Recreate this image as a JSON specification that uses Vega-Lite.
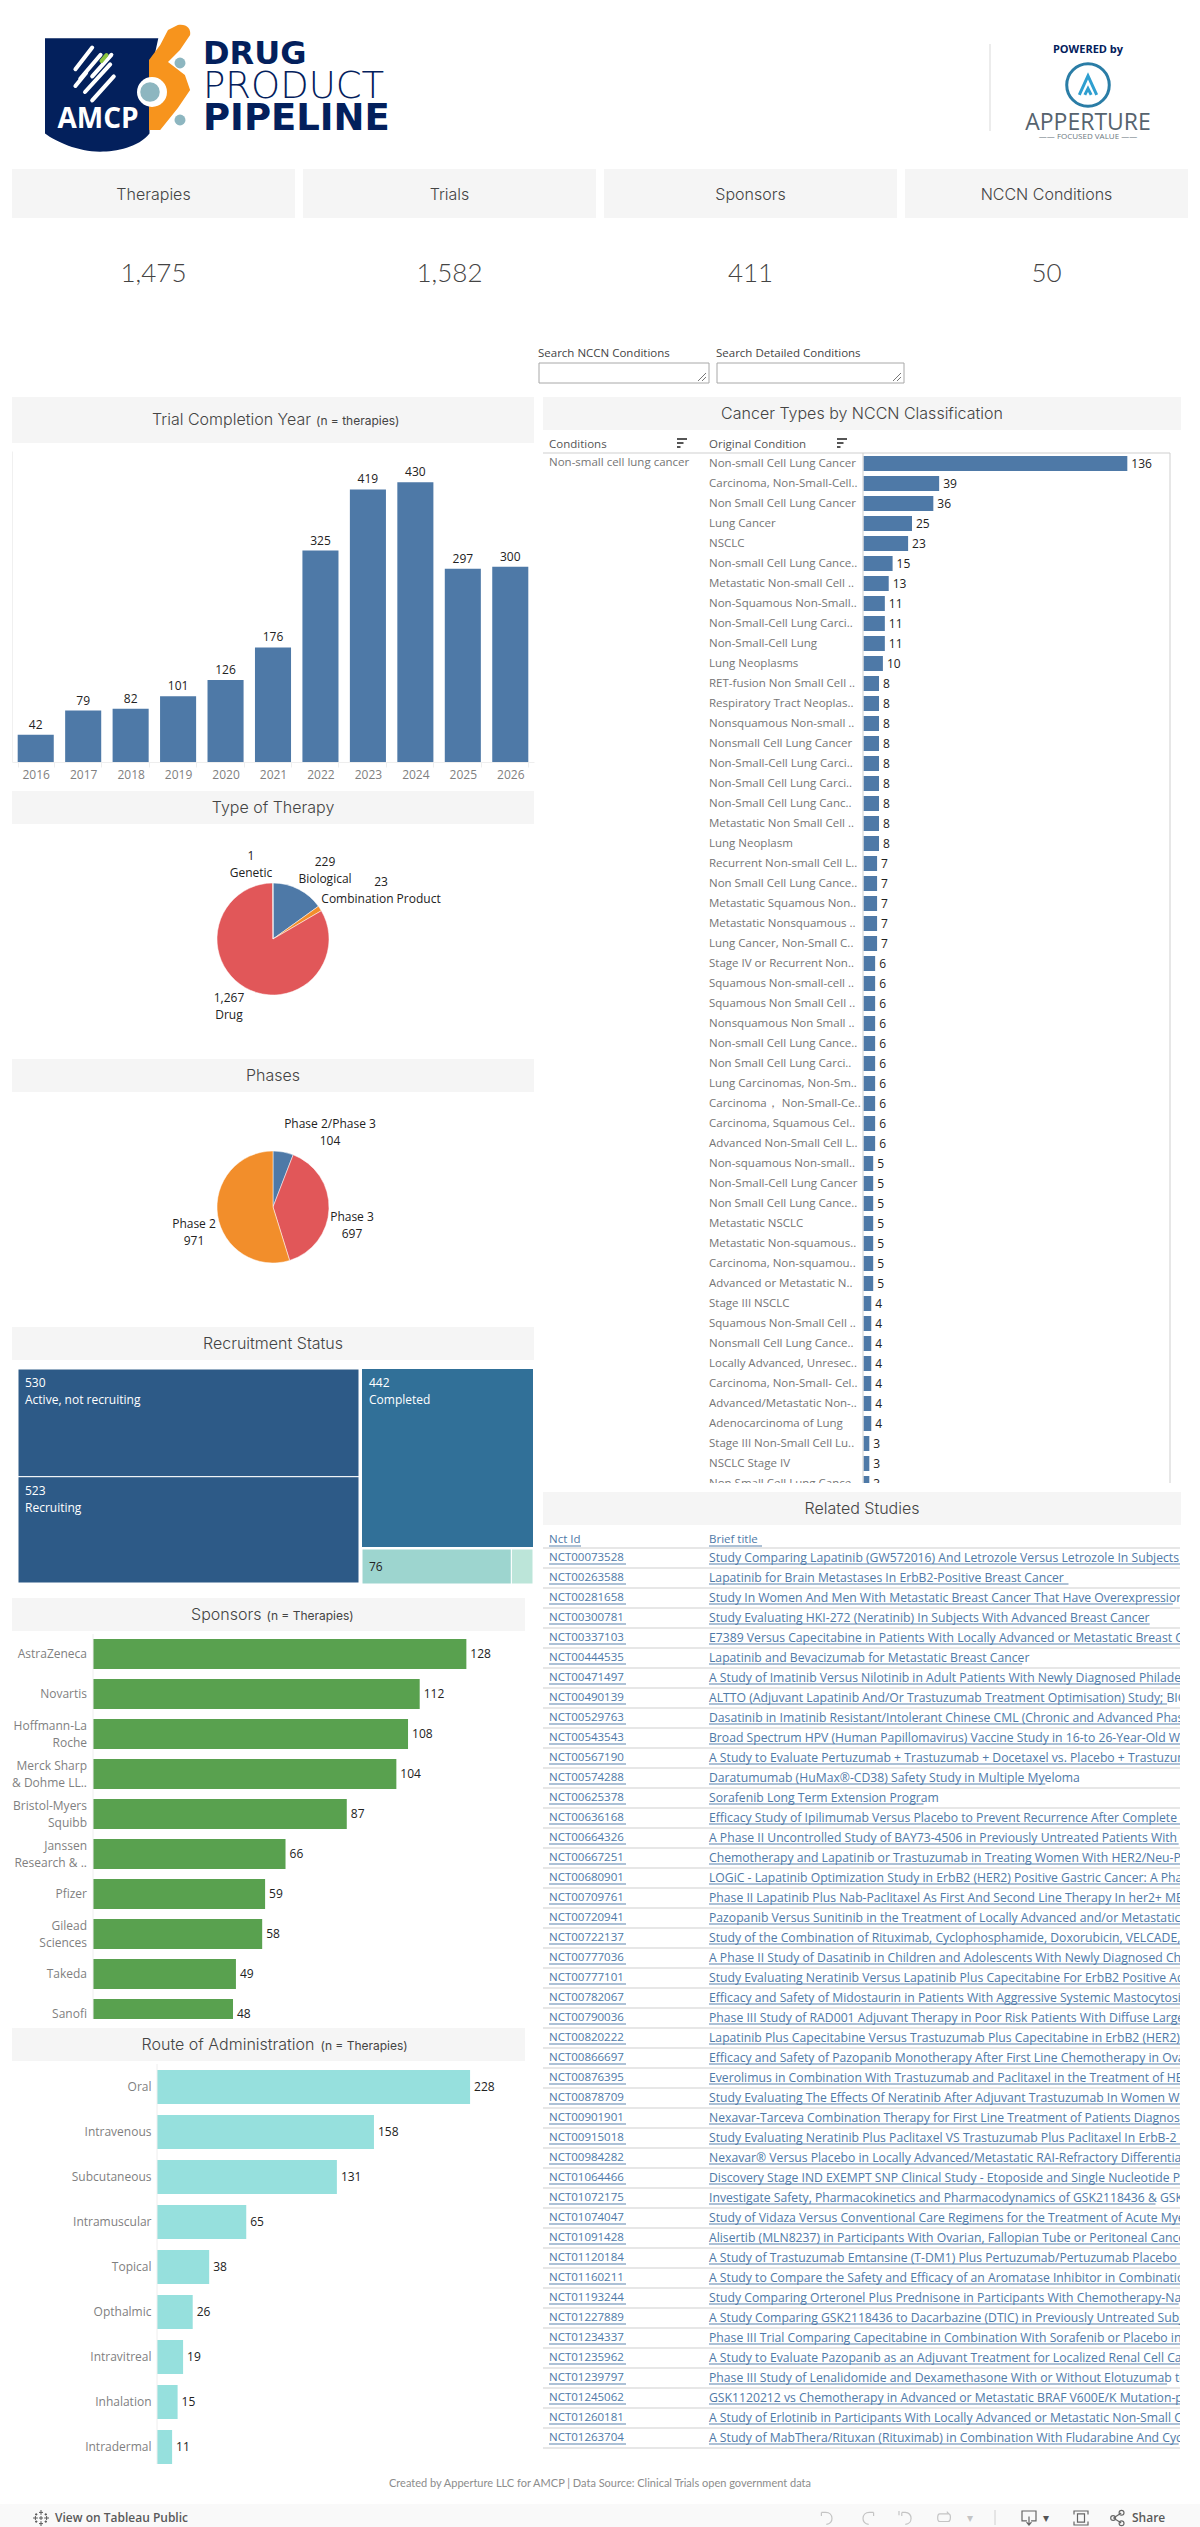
{
"$schema":"https://vega.github.io/schema/vega-lite/v6.json",
"padding":0,"background":"#ffffff","spacing":0,
"config":{"view":{"stroke":null},"font":"Open Sans","axis":{"title":null,"grid":false},"text":{"font":"Open Sans"}},
"datasets":{
"years":[{"year":"2016","n":42},{"year":"2017","n":79},{"year":"2018","n":82},{"year":"2019","n":101},{"year":"2020","n":126},{"year":"2021","n":176},{"year":"2022","n":325},{"year":"2023","n":419},{"year":"2024","n":430},{"year":"2025","n":297},{"year":"2026","n":300}],
"therapy":[{"kind":"Biological","n":229},{"kind":"Combination Product","n":23},{"kind":"Drug","n":1267},{"kind":"Genetic","n":1}],
"phases":[{"phase":"Phase 2/Phase 3","n":104,"seq":1},{"phase":"Phase 3","n":697,"seq":2},{"phase":"Phase 2","n":971,"seq":3}],
"sponsors":[{"sponsor":"AstraZeneca","n":128},{"sponsor":"Novartis","n":112},{"sponsor":"Hoffmann-La\nRoche","n":108},{"sponsor":"Merck Sharp\n& Dohme LL..","n":104},{"sponsor":"Bristol-Myers\nSquibb","n":87},{"sponsor":"Janssen\nResearch & ..","n":66},{"sponsor":"Pfizer","n":59},{"sponsor":"Gilead\nSciences","n":58},{"sponsor":"Takeda","n":49},{"sponsor":"Sanofi","n":48}],
"routes":[{"route":"Oral","n":228},{"route":"Intravenous","n":158},{"route":"Subcutaneous","n":131},{"route":"Intramuscular","n":65},{"route":"Topical","n":38},{"route":"Opthalmic","n":26},{"route":"Intravitreal","n":19},{"route":"Inhalation","n":15},{"route":"Intradermal","n":11}],
"cancer":[{"rank":1,"cond":"Non-small Cell Lung Cancer","n":136},{"rank":2,"cond":"Carcinoma, Non-Small-Cell..","n":39},{"rank":3,"cond":"Non Small Cell Lung Cancer","n":36},{"rank":4,"cond":"Lung Cancer","n":25},{"rank":5,"cond":"NSCLC","n":23},{"rank":6,"cond":"Non-small Cell Lung Cance..","n":15},{"rank":7,"cond":"Metastatic Non-small Cell ..","n":13},{"rank":8,"cond":"Non-Squamous Non-Small..","n":11},{"rank":9,"cond":"Non-Small-Cell Lung Carci..","n":11},{"rank":10,"cond":"Non-Small-Cell Lung","n":11},{"rank":11,"cond":"Lung Neoplasms","n":10},{"rank":12,"cond":"RET-fusion Non Small Cell ..","n":8},{"rank":13,"cond":"Respiratory Tract Neoplas..","n":8},{"rank":14,"cond":"Nonsquamous Non-small ..","n":8},{"rank":15,"cond":"Nonsmall Cell Lung Cancer","n":8},{"rank":16,"cond":"Non-Small-Cell Lung Carci..","n":8},{"rank":17,"cond":"Non-Small Cell Lung Carci..","n":8},{"rank":18,"cond":"Non-Small Cell Lung Canc..","n":8},{"rank":19,"cond":"Metastatic Non Small Cell ..","n":8},{"rank":20,"cond":"Lung Neoplasm","n":8},{"rank":21,"cond":"Recurrent Non-small Cell L..","n":7},{"rank":22,"cond":"Non Small Cell Lung Cance..","n":7},{"rank":23,"cond":"Metastatic Squamous Non..","n":7},{"rank":24,"cond":"Metastatic Nonsquamous ..","n":7},{"rank":25,"cond":"Lung Cancer, Non-Small C..","n":7},{"rank":26,"cond":"Stage IV or Recurrent Non..","n":6},{"rank":27,"cond":"Squamous Non-small-cell ..","n":6},{"rank":28,"cond":"Squamous Non Small Cell ..","n":6},{"rank":29,"cond":"Nonsquamous Non Small ..","n":6},{"rank":30,"cond":"Non-small Cell Lung Cance..","n":6},{"rank":31,"cond":"Non Small Cell Lung Carci..","n":6},{"rank":32,"cond":"Lung Carcinomas, Non-Sm..","n":6},{"rank":33,"cond":"Carcinoma， Non-Small-Ce..","n":6},{"rank":34,"cond":"Carcinoma, Squamous Cel..","n":6},{"rank":35,"cond":"Advanced Non-Small Cell L..","n":6},{"rank":36,"cond":"Non-squamous Non-small..","n":5},{"rank":37,"cond":"Non-Small-Cell Lung Cancer","n":5},{"rank":38,"cond":"Non Small Cell Lung Cance..","n":5},{"rank":39,"cond":"Metastatic NSCLC","n":5},{"rank":40,"cond":"Metastatic Non-squamous..","n":5},{"rank":41,"cond":"Carcinoma, Non-squamou..","n":5},{"rank":42,"cond":"Advanced or Metastatic N..","n":5},{"rank":43,"cond":"Stage III NSCLC","n":4},{"rank":44,"cond":"Squamous Non-Small Cell ..","n":4},{"rank":45,"cond":"Nonsmall Cell Lung Cance..","n":4},{"rank":46,"cond":"Locally Advanced, Unresec..","n":4},{"rank":47,"cond":"Carcinoma, Non-Small- Cel..","n":4},{"rank":48,"cond":"Advanced/Metastatic Non-..","n":4},{"rank":49,"cond":"Adenocarcinoma of Lung","n":4},{"rank":50,"cond":"Stage III Non-Small Cell Lu..","n":3},{"rank":51,"cond":"NSCLC Stage IV","n":3},{"rank":52,"cond":"Non Small Cell Lung Cance..","n":3}],
"studies":[{"nct":"NCT00073528","title":"Study Comparing Lapatinib (GW572016) And Letrozole Versus Letrozole In Subjects With"},{"nct":"NCT00263588","title":"Lapatinib for Brain Metastases In ErbB2-Positive Breast Cancer"},{"nct":"NCT00281658","title":"Study In Women And Men With Metastatic Breast Cancer That Have Overexpression Of"},{"nct":"NCT00300781","title":"Study Evaluating HKI-272 (Neratinib) In Subjects With Advanced Breast Cancer"},{"nct":"NCT00337103","title":"E7389 Versus Capecitabine in Patients With Locally Advanced or Metastatic Breast Cancer"},{"nct":"NCT00444535","title":"Lapatinib and Bevacizumab for Metastatic Breast Cancer"},{"nct":"NCT00471497","title":"A Study of Imatinib Versus Nilotinib in Adult Patients With Newly Diagnosed Philadelphia"},{"nct":"NCT00490139","title":"ALTTO (Adjuvant Lapatinib And/Or Trastuzumab Treatment Optimisation) Study; BIG"},{"nct":"NCT00529763","title":"Dasatinib in Imatinib Resistant/Intolerant Chinese CML (Chronic and Advanced Phase"},{"nct":"NCT00543543","title":"Broad Spectrum HPV (Human Papillomavirus) Vaccine Study in 16-to 26-Year-Old Women"},{"nct":"NCT00567190","title":"A Study to Evaluate Pertuzumab + Trastuzumab + Docetaxel vs. Placebo + Trastuzumab"},{"nct":"NCT00574288","title":"Daratumumab (HuMax®-CD38) Safety Study in Multiple Myeloma"},{"nct":"NCT00625378","title":"Sorafenib Long Term Extension Program"},{"nct":"NCT00636168","title":"Efficacy Study of Ipilimumab Versus Placebo to Prevent Recurrence After Complete Resection"},{"nct":"NCT00664326","title":"A Phase II Uncontrolled Study of BAY73-4506 in Previously Untreated Patients With"},{"nct":"NCT00667251","title":"Chemotherapy and Lapatinib or Trastuzumab in Treating Women With HER2/Neu-Positive"},{"nct":"NCT00680901","title":"LOGiC - Lapatinib Optimization Study in ErbB2 (HER2) Positive Gastric Cancer: A Phase"},{"nct":"NCT00709761","title":"Phase II Lapatinib Plus Nab-Paclitaxel As First And Second Line Therapy In her2+ MBC"},{"nct":"NCT00720941","title":"Pazopanib Versus Sunitinib in the Treatment of Locally Advanced and/or Metastatic Renal"},{"nct":"NCT00722137","title":"Study of the Combination of Rituximab, Cyclophosphamide, Doxorubicin, VELCADE, and"},{"nct":"NCT00777036","title":"A Phase II Study of Dasatinib in Children and Adolescents With Newly Diagnosed Chronic"},{"nct":"NCT00777101","title":"Study Evaluating Neratinib Versus Lapatinib Plus Capecitabine For ErbB2 Positive Advanced"},{"nct":"NCT00782067","title":"Efficacy and Safety of Midostaurin in Patients With Aggressive Systemic Mastocytosis"},{"nct":"NCT00790036","title":"Phase III Study of RAD001 Adjuvant Therapy in Poor Risk Patients With Diffuse Large"},{"nct":"NCT00820222","title":"Lapatinib Plus Capecitabine Versus Trastuzumab Plus Capecitabine in ErbB2 (HER2) Positive"},{"nct":"NCT00866697","title":"Efficacy and Safety of Pazopanib Monotherapy After First Line Chemotherapy in Ovarian"},{"nct":"NCT00876395","title":"Everolimus in Combination With Trastuzumab and Paclitaxel in the Treatment of HER2"},{"nct":"NCT00878709","title":"Study Evaluating The Effects Of Neratinib After Adjuvant Trastuzumab In Women With"},{"nct":"NCT00901901","title":"Nexavar-Tarceva Combination Therapy for First Line Treatment of Patients Diagnosed"},{"nct":"NCT00915018","title":"Study Evaluating Neratinib Plus Paclitaxel VS Trastuzumab Plus Paclitaxel In ErbB-2"},{"nct":"NCT00984282","title":"Nexavar® Versus Placebo in Locally Advanced/Metastatic RAI-Refractory Differentiated"},{"nct":"NCT01064466","title":"Discovery Stage IND EXEMPT SNP Clinical Study - Etoposide and Single Nucleotide Poly"},{"nct":"NCT01072175","title":"Investigate Safety, Pharmacokinetics and Pharmacodynamics of GSK2118436 & GSK"},{"nct":"NCT01074047","title":"Study of Vidaza Versus Conventional Care Regimens for the Treatment of Acute Myeloid"},{"nct":"NCT01091428","title":"Alisertib (MLN8237) in Participants With Ovarian, Fallopian Tube or Peritoneal Cancer"},{"nct":"NCT01120184","title":"A Study of Trastuzumab Emtansine (T-DM1) Plus Pertuzumab/Pertuzumab Placebo Versus"},{"nct":"NCT01160211","title":"A Study to Compare the Safety and Efficacy of an Aromatase Inhibitor in Combination"},{"nct":"NCT01193244","title":"Study Comparing Orteronel Plus Prednisone in Participants With Chemotherapy-Naive"},{"nct":"NCT01227889","title":"A Study Comparing GSK2118436 to Dacarbazine (DTIC) in Previously Untreated Subjects"},{"nct":"NCT01234337","title":"Phase III Trial Comparing Capecitabine in Combination With Sorafenib or Placebo in the"},{"nct":"NCT01235962","title":"A Study to Evaluate Pazopanib as an Adjuvant Treatment for Localized Renal Cell Carcinoma"},{"nct":"NCT01239797","title":"Phase III Study of Lenalidomide and Dexamethasone With or Without Elotuzumab to"},{"nct":"NCT01245062","title":"GSK1120212 vs Chemotherapy in Advanced or Metastatic BRAF V600E/K Mutation-positive"},{"nct":"NCT01260181","title":"A Study of Erlotinib in Participants With Locally Advanced or Metastatic Non-Small Cell"},{"nct":"NCT01263704","title":"A Study of MabThera/Rituxan (Rituximab) in Combination With Fludarabine And Cyclo"}]
},
"vconcat":[
{"width":1200,"height":169,"layer":[
{"data":{"values":[{}]},"mark":{"type":"point","x":100,"y":95,"size":12100,"filled":true,"opacity":1,"color":"#03205c","shape":"M-1,-1.03 L1.06,-1.03 L.9,-.3 L.9,.7 C.7,.95 .3,1.03 0,1.03 C-.4,1.03 -.8,.85 -1,.7 Z"},"encoding":{}},
{"data":{"values":[{}]},"mark":{"type":"point","x":168,"y":78,"size":2704,"filled":true,"opacity":1,"color":"#f7941d","shape":"M.38,-2.04 C.7,-2.1 .9,-1.9 .85,-1.65 L.46,-1.08 L0,-.62 L.65,-.12 L.85,.46 L.38,1.15 L-.3,2 L-.73,2 L-.73,-.69 L-.3,-1.27 L0,-1.85 Z"},"encoding":{}},
{"data":{"values":[{}]},"mark":{"type":"point","x":152,"y":92,"size":900,"shape":"circle","filled":true,"opacity":1,"color":"#ffffff"},"encoding":{}},
{"data":{"values":[{}]},"mark":{"type":"point","x":150,"y":92,"size":380,"shape":"circle","filled":true,"opacity":1,"color":"#8db6c0"},"encoding":{}},
{"data":{"values":[{}]},"mark":{"type":"point","x":180,"y":63,"size":120,"shape":"circle","filled":true,"opacity":1,"color":"#8db6c0"},"encoding":{}},
{"data":{"values":[{}]},"mark":{"type":"point","x":180,"y":120,"size":120,"shape":"circle","filled":true,"opacity":1,"color":"#8db6c0"},"encoding":{}},
{"data":{"values":[{}]},"mark":{"type":"point","x":97,"y":74,"size":2304,"filled":false,"opacity":1,"stroke":"#ffffff","strokeWidth":4,"strokeCap":"round","shape":"M-.9,-.2 L-.2,-1.1 M-.7,.2 L.15,-.8 M-.2,.1 L.6,-.8 M-.9,.5 L-.45,-.05 M-.5,.75 L.55,-.4 M-.2,1.1 L.7,.1"},"encoding":{}},
{"data":{"values":[{}]},"mark":{"type":"point","x":104,"y":58,"size":100,"filled":false,"opacity":1,"stroke":"#8cc63f","strokeWidth":4,"strokeCap":"round","shape":"M-.5,.6 L.5,-.6"},"encoding":{}},
{"data":{"values":[{"t":"AMCP"}]},"mark":{"type":"text","x":98,"y":120,"font":"Open Sans","fontWeight":"bold","fontSize":28,"color":"#ffffff","baseline":"middle"},"encoding":{"text":{"field":"t","type":"nominal"}}},
{"data":{"values":[{"t":"DRUG"}]},"mark":{"type":"text","x":203,"y":54,"align":"left","baseline":"middle","font":"DejaVu Sans","fontWeight":"bold","fontSize":32,"color":"#03205c"},"encoding":{"text":{"field":"t","type":"nominal"}}},
{"data":{"values":[{"t":"PRODUCT"}]},"mark":{"type":"text","x":203,"y":87,"align":"left","baseline":"middle","font":"DejaVu Sans","fontWeight":200,"fontSize":37,"color":"#03205c"},"encoding":{"text":{"field":"t","type":"nominal"}}},
{"data":{"values":[{"t":"PIPELINE"}]},"mark":{"type":"text","x":203,"y":119,"align":"left","baseline":"middle","font":"DejaVu Sans","fontWeight":"bold","fontSize":37,"color":"#03205c"},"encoding":{"text":{"field":"t","type":"nominal"}}},
{"data":{"values":[{}]},"mark":{"type":"rule","color":"#d9d9d9"},"encoding":{"x":{"value":990},"y":{"value":44},"y2":{"value":131}}},
{"data":{"values":[{"t":"POWERED by"}]},"mark":{"type":"text","x":1088,"y":50,"font":"Open Sans","fontWeight":"bold","fontSize":11,"color":"#03205c","baseline":"middle"},"encoding":{"text":{"field":"t","type":"nominal"}}},
{"data":{"values":[{}]},"mark":{"type":"point","x":1088,"y":85,"size":1810,"shape":"circle","filled":false,"opacity":1,"stroke":"#2a7da6","strokeWidth":3},"encoding":{}},
{"data":{"values":[{}]},"mark":{"type":"point","x":1088,"y":87,"size":1000,"filled":false,"opacity":1,"stroke":"#2f9fd0","strokeWidth":3,"shape":"M-.55,.5 L0,-.7 L.55,.5 M-.2,.5 L0,.1 L.2,.5"},"encoding":{}},
{"data":{"values":[{"t":"APPERTURE"}]},"mark":{"type":"text","x":1088,"y":123,"font":"Open Sans","fontSize":23,"color":"#56636e","baseline":"middle"},"encoding":{"text":{"field":"t","type":"nominal"}}},
{"data":{"values":[{"t":"—— FOCUSED VALUE ——"}]},"mark":{"type":"text","x":1088,"y":137,"font":"Open Sans","fontSize":8,"color":"#6b7780","baseline":"middle"},"encoding":{"text":{"field":"t","type":"nominal"}}}
]},
{"spacing":8,"hconcat":[
{"width":4,"height":49,"data":{"values":[{}]},"mark":{"type":"rect","opacity":0},"encoding":{}},
{"width":283,"height":49,"view":{"fill":"#f5f5f5"},"data":{"values":[{"t":"Therapies"}]},"mark":{"type":"text","font":"Inter","fontWeight":300,"fontSize":16,"color":"#444444","dy":1},"encoding":{"text":{"field":"t","type":"nominal"}}},
{"width":293,"height":49,"view":{"fill":"#f5f5f5"},"data":{"values":[{"t":"Trials"}]},"mark":{"type":"text","font":"Inter","fontWeight":300,"fontSize":16,"color":"#444444","dy":1},"encoding":{"text":{"field":"t","type":"nominal"}}},
{"width":293,"height":49,"view":{"fill":"#f5f5f5"},"data":{"values":[{"t":"Sponsors"}]},"mark":{"type":"text","font":"Inter","fontWeight":300,"fontSize":16,"color":"#444444","dy":1},"encoding":{"text":{"field":"t","type":"nominal"}}},
{"width":283,"height":49,"view":{"fill":"#f5f5f5"},"data":{"values":[{"t":"NCCN Conditions"}]},"mark":{"type":"text","font":"Inter","fontWeight":300,"fontSize":16,"color":"#444444","dy":1},"encoding":{"text":{"field":"t","type":"nominal"}}}
]},
{"spacing":8,"hconcat":[
{"width":4,"height":112,"data":{"values":[{}]},"mark":{"type":"rect","opacity":0},"encoding":{}},
{"width":283,"height":112,"data":{"values":[{"v":"1,475"}]},"mark":{"type":"text","font":"Lato","fontWeight":300,"fontSize":26,"color":"#444444"},"encoding":{"text":{"field":"v","type":"nominal"}}},
{"width":293,"height":112,"data":{"values":[{"v":"1,582"}]},"mark":{"type":"text","font":"Lato","fontWeight":300,"fontSize":26,"color":"#444444"},"encoding":{"text":{"field":"v","type":"nominal"}}},
{"width":293,"height":112,"data":{"values":[{"v":"411"}]},"mark":{"type":"text","font":"Lato","fontWeight":300,"fontSize":26,"color":"#444444"},"encoding":{"text":{"field":"v","type":"nominal"}}},
{"width":283,"height":112,"data":{"values":[{"v":"50"}]},"mark":{"type":"text","font":"Lato","fontWeight":300,"fontSize":26,"color":"#444444"},"encoding":{"text":{"field":"v","type":"nominal"}}}
]},
{"width":1200,"height":67,"layer":[
{"data":{"values":[{"t":"Search NCCN Conditions"}]},"mark":{"type":"text","x":538,"y":24,"align":"left","baseline":"middle","fontSize":11.5,"color":"#444444"},"encoding":{"text":{"field":"t","type":"nominal"}}},
{"data":{"values":[{"t":"Search Detailed Conditions"}]},"mark":{"type":"text","x":716,"y":24,"align":"left","baseline":"middle","fontSize":11.5,"color":"#444444"},"encoding":{"text":{"field":"t","type":"nominal"}}},
{"data":{"values":[{}]},"mark":{"type":"rect","fill":"#ffffff","stroke":"#a8a8a8","strokeWidth":1},"encoding":{"x":{"value":539},"x2":{"value":709},"y":{"value":33},"y2":{"value":53}}},
{"data":{"values":[{}]},"mark":{"type":"rect","fill":"#ffffff","stroke":"#a8a8a8","strokeWidth":1},"encoding":{"x":{"value":717},"x2":{"value":904},"y":{"value":33},"y2":{"value":53}}},
{"data":{"values":[{}]},"mark":{"type":"point","x":702,"y":47,"size":64,"filled":false,"opacity":1,"stroke":"#777777","strokeWidth":1,"shape":"M-1,1 L1,-1 M0,1 L1,0"},"encoding":{}},
{"data":{"values":[{}]},"mark":{"type":"point","x":897,"y":47,"size":64,"filled":false,"opacity":1,"stroke":"#777777","strokeWidth":1,"shape":"M-1,1 L1,-1 M0,1 L1,0"},"encoding":{}}
]},
{"spacing":8,"hconcat":[
{"width":4,"height":10,"data":{"values":[{}]},"mark":{"type":"rect","opacity":0},"encoding":{}},
{"spacing":0,"resolve":{"scale":{"color":"independent"}},"vconcat":[
{"width":522,"height":46,"view":{"fill":"#f5f5f5"},"data":{"values":[{"t":"Trial Completion Year","s":"(n = therapies)"}]},"layer":[
{"mark":{"type":"text","font":"Inter","fontWeight":300,"fontSize":16,"color":"#444444","align":"right","dx":38},"encoding":{"text":{"field":"t","type":"nominal"}}},
{"mark":{"type":"text","font":"Inter","fontSize":12,"color":"#444444","align":"left","dx":43,"dy":1},"encoding":{"text":{"field":"s","type":"nominal"}}}
]},
{"width":522,"height":348,"data":{"name":"years"},"encoding":{
"x":{"field":"year","type":"ordinal","scale":{"range":[0,522],"paddingInner":0.24,"paddingOuter":0.12},"axis":{"offset":-29,"labelAngle":0,"labelColor":"#7f7f7f","labelFontSize":12,"labelFont":"Open Sans","labelPadding":2,"tickColor":"#eeeeee","domainColor":"#eeeeee","tickBand":"extent","tickSize":5}},
"y":{"field":"n","type":"quantitative","scale":{"domain":[0,478],"range":[319,8],"nice":false},"axis":{"labels":false,"ticks":false,"domainColor":"#f0f0f0"}}},
"layer":[
{"mark":{"type":"bar","color":"#4e79a7"}},
{"mark":{"type":"text","baseline":"bottom","dy":-3,"fontSize":12,"color":"#222222"},"encoding":{"text":{"field":"n","type":"quantitative"}}}
]},
{"width":522,"height":33,"view":{"fill":"#f5f5f5"},"data":{"values":[{"t":"Type of Therapy"}]},"mark":{"type":"text","font":"Inter","fontWeight":300,"fontSize":16,"color":"#444444"},"encoding":{"text":{"field":"t","type":"nominal"}}},
{"width":522,"height":230,"data":{"name":"therapy"},"transform":[{"calculate":"format(datum.n,',')+'\\n'+datum.kind","as":"label"}],"layer":[
{"mark":{"type":"arc","radius":56,"stroke":"#ffffff","strokeWidth":0.5},"encoding":{"theta":{"field":"n","type":"quantitative"},"color":{"field":"kind","type":"nominal","legend":null,"scale":{"domain":["Biological","Combination Product","Drug","Genetic"],"range":["#4e79a7","#f28e2b","#e15759","#76b7b2"]}}}},
{"transform":[{"filter":"datum.kind=='Genetic'"}],"mark":{"type":"text","lineBreak":"\n","lineHeight":17,"fontSize":12,"color":"#222222","dx":-22,"dy":-83},"encoding":{"text":{"field":"label","type":"nominal"}}},
{"transform":[{"filter":"datum.kind=='Biological'"}],"mark":{"type":"text","lineBreak":"\n","lineHeight":17,"fontSize":12,"color":"#222222","dx":52,"dy":-77},"encoding":{"text":{"field":"label","type":"nominal"}}},
{"transform":[{"filter":"datum.kind=='Combination Product'"}],"mark":{"type":"text","lineBreak":"\n","lineHeight":17,"fontSize":12,"color":"#222222","dx":108,"dy":-57},"encoding":{"text":{"field":"label","type":"nominal"}}},
{"transform":[{"filter":"datum.kind=='Drug'"}],"mark":{"type":"text","lineBreak":"\n","lineHeight":17,"fontSize":12,"color":"#222222","dx":-44,"dy":59},"encoding":{"text":{"field":"label","type":"nominal"}}}
]},
{"width":522,"height":5,"data":{"values":[{}]},"mark":{"type":"rect","opacity":0},"encoding":{}},
{"width":522,"height":33,"view":{"fill":"#f5f5f5"},"data":{"values":[{"t":"Phases"}]},"mark":{"type":"text","font":"Inter","fontWeight":300,"fontSize":16,"color":"#444444"},"encoding":{"text":{"field":"t","type":"nominal"}}},
{"width":522,"height":230,"data":{"name":"phases"},"transform":[{"calculate":"datum.phase+'\\n'+format(datum.n,',')","as":"label"}],"layer":[
{"mark":{"type":"arc","radius":56,"stroke":"#ffffff","strokeWidth":0.5},"encoding":{"theta":{"field":"n","type":"quantitative"},"order":{"field":"seq","type":"quantitative"},"color":{"field":"phase","type":"nominal","legend":null,"scale":{"domain":["Phase 2/Phase 3","Phase 3","Phase 2"],"range":["#4e79a7","#e15759","#f28e2b"]}}}},
{"transform":[{"filter":"datum.phase=='Phase 2/Phase 3'"}],"mark":{"type":"text","lineBreak":"\n","lineHeight":17,"fontSize":12,"color":"#222222","dx":57,"dy":-83},"encoding":{"text":{"field":"label","type":"nominal"}}},
{"transform":[{"filter":"datum.phase=='Phase 3'"}],"mark":{"type":"text","lineBreak":"\n","lineHeight":17,"fontSize":12,"color":"#222222","dx":79,"dy":10},"encoding":{"text":{"field":"label","type":"nominal"}}},
{"transform":[{"filter":"datum.phase=='Phase 2'"}],"mark":{"type":"text","lineBreak":"\n","lineHeight":17,"fontSize":12,"color":"#222222","dx":-79,"dy":17},"encoding":{"text":{"field":"label","type":"nominal"}}}
]},
{"width":522,"height":5,"data":{"values":[{}]},"mark":{"type":"rect","opacity":0},"encoding":{}},
{"width":522,"height":33,"view":{"fill":"#f5f5f5"},"data":{"values":[{"t":"Recruitment Status"}]},"mark":{"type":"text","font":"Inter","fontWeight":300,"fontSize":16,"color":"#444444"},"encoding":{"text":{"field":"t","type":"nominal"}}},
{"width":522,"height":8,"data":{"values":[{}]},"mark":{"type":"rect","opacity":0},"encoding":{}},
{"spacing":1,"hconcat":[
{"width":4,"height":214,"data":{"values":[{}]},"mark":{"type":"rect","opacity":0},"encoding":{}},
{"width":341,"height":214,"data":{"values":[{"status":"Active, not recruiting","n":530,"seq":1},{"status":"Recruiting","n":523,"seq":2}]},"transform":[{"stack":"n","groupby":[],"sort":[{"field":"seq","order":"ascending"}],"as":["y0","y1"]},{"calculate":"datum.n+'\\n'+datum.status","as":"label"}],"encoding":{"y":{"field":"y0","type":"quantitative","axis":null,"scale":{"domain":[0,1053],"range":[0,214],"nice":false}}},"layer":[
{"mark":{"type":"rect","color":"#2d5a87","stroke":"#ffffff","strokeWidth":1},"encoding":{"y2":{"field":"y1"}}},
{"mark":{"type":"text","x":7,"align":"left","baseline":"top","dy":9,"lineBreak":"\n","lineHeight":17,"fontSize":12,"color":"#ffffff"},"encoding":{"text":{"field":"label","type":"nominal"}}}
]},
{"spacing":1,"vconcat":[
{"width":171,"height":178,"view":{"fill":"#317098"},"data":{"values":[{"status":"Completed","n":442}]},"transform":[{"calculate":"datum.n+'\\n'+datum.status","as":"label"}],"mark":{"type":"text","x":7,"y":9,"align":"left","baseline":"top","lineBreak":"\n","lineHeight":17,"fontSize":12,"color":"#ffffff"},"encoding":{"text":{"field":"label","type":"nominal"}}},
{"width":171,"height":35,"data":{"values":[{"status":"Terminated","n":76,"seq":1,"shown":"76"},{"status":"Other","n":11,"seq":2,"shown":""}]},"transform":[{"stack":"n","groupby":[],"sort":[{"field":"seq","order":"ascending"}],"as":["x0","x1"]}],"encoding":{"x":{"field":"x0","type":"quantitative","axis":null,"scale":{"domain":[0,87],"range":[0,171],"nice":false}}},"layer":[
{"mark":{"type":"rect","stroke":"#ffffff","strokeWidth":1},"encoding":{"x2":{"field":"x1"},"color":{"field":"status","type":"nominal","legend":null,"scale":{"domain":["Terminated","Other"],"range":["#9dd5cf","#bce5d9"]}}}},
{"mark":{"type":"text","align":"left","dx":7,"fontSize":12,"color":"#222222"},"encoding":{"text":{"field":"shown","type":"nominal"}}}
]}
]}
]},
{"width":522,"height":13,"data":{"values":[{}]},"mark":{"type":"rect","opacity":0},"encoding":{}},
{"width":513,"height":33,"view":{"fill":"#f5f5f5"},"data":{"values":[{"t":"Sponsors","s":"(n = Therapies)"}]},"layer":[
{"mark":{"type":"text","font":"Inter","fontWeight":300,"fontSize":16,"color":"#444444","align":"right","dx":-7},"encoding":{"text":{"field":"t","type":"nominal"}}},
{"mark":{"type":"text","font":"Inter","fontSize":12,"color":"#444444","align":"left","dx":-2,"dy":1},"encoding":{"text":{"field":"s","type":"nominal"}}}
]},
{"width":513,"height":388,"data":{"name":"sponsors"},"encoding":{
"y":{"field":"sponsor","type":"nominal","sort":null,"axis":null,"scale":{"range":[3,403],"paddingInner":0.25,"paddingOuter":0.125}},
"x":{"field":"n","type":"quantitative","scale":{"domain":[0,148.1],"range":[81,513],"nice":false},"axis":null}},
"layer":[
{"mark":{"type":"bar","color":"#59a14f","clip":true}},
{"mark":{"type":"text","align":"left","dx":4,"fontSize":12,"color":"#222222","clip":true},"encoding":{"text":{"field":"n","type":"quantitative"}}},
{"transform":[{"filter":"indexof(datum.sponsor,'\\n')>=0"}],"mark":{"type":"text","align":"right","dy":-8.5,"lineBreak":"\n","lineHeight":17,"fontSize":12,"color":"#7f7f7f","clip":true},"encoding":{"x":{"value":75},"text":{"field":"sponsor","type":"nominal"}}},
{"transform":[{"filter":"indexof(datum.sponsor,'\\n')<0"}],"mark":{"type":"text","align":"right","fontSize":12,"color":"#7f7f7f","clip":true},"encoding":{"x":{"value":75},"text":{"field":"sponsor","type":"nominal"}}},
{"data":{"values":[{}]},"mark":{"type":"rule","color":"#eeeeee"},"encoding":{"x":{"value":81},"y":{"value":3},"y2":{"value":388}}}
]},
{"width":513,"height":8,"data":{"values":[{}]},"mark":{"type":"rect","opacity":0},"encoding":{}},
{"width":513,"height":33,"view":{"fill":"#f5f5f5"},"data":{"values":[{"t":"Route of Administration","s":"(n = Therapies)"}]},"layer":[
{"mark":{"type":"text","font":"Inter","fontWeight":300,"fontSize":16,"color":"#444444","align":"right","dx":46},"encoding":{"text":{"field":"t","type":"nominal"}}},
{"mark":{"type":"text","font":"Inter","fontSize":12,"color":"#444444","align":"left","dx":52,"dy":1},"encoding":{"text":{"field":"s","type":"nominal"}}}
]},
{"width":513,"height":413,"data":{"name":"routes"},"encoding":{
"y":{"field":"route","type":"nominal","sort":null,"scale":{"range":[3.5,408.5],"paddingInner":0.244,"paddingOuter":0.122},"axis":{"offset":-145,"domain":false,"ticks":false,"labelPadding":6,"labelFontSize":12,"labelFont":"Open Sans","labelColor":"#7f7f7f"}},
"x":{"field":"n","type":"quantitative","scale":{"domain":[0,268],"range":[145,513],"nice":false},"axis":null}},
"layer":[
{"mark":{"type":"bar","color":"#96e0dd"}},
{"mark":{"type":"text","align":"left","dx":4,"fontSize":12,"color":"#222222"},"encoding":{"text":{"field":"n","type":"quantitative"}}},
{"data":{"values":[{}]},"mark":{"type":"rule","color":"#eeeeee"},"encoding":{"x":{"value":145},"y":{"value":3},"y2":{"value":403}}}
]}
]},
{"spacing":0,"vconcat":[
{"width":638,"height":33,"view":{"fill":"#f5f5f5"},"data":{"values":[{"t":"Cancer Types by NCCN Classification"}]},"mark":{"type":"text","font":"Inter","fontWeight":300,"fontSize":16,"color":"#444444"},"encoding":{"text":{"field":"t","type":"nominal"}}},
{"width":638,"height":1053,"data":{"name":"cancer"},"encoding":{
"y":{"field":"rank","type":"ordinal","sort":null,"axis":null,"scale":{"range":[23.5,1063.5],"paddingInner":0.25,"paddingOuter":0.125}},
"x":{"field":"n","type":"quantitative","axis":null,"scale":{"domain":[0,158],"range":[320.5,627],"nice":false}}},
"layer":[
{"mark":{"type":"bar","color":"#4e79a7","clip":true}},
{"mark":{"type":"text","align":"left","dx":4,"fontSize":12,"color":"#222222","clip":true},"encoding":{"text":{"field":"n","type":"quantitative"}}},
{"mark":{"type":"text","align":"left","fontSize":11.5,"color":"#757575","clip":true},"encoding":{"x":{"value":166},"text":{"field":"cond","type":"nominal"}}},
{"transform":[{"filter":"datum.rank==1"},{"calculate":"'Non-small cell lung cancer'","as":"group"}],"mark":{"type":"text","align":"left","fontSize":11.5,"color":"#757575","dy":-1},"encoding":{"x":{"value":6},"text":{"field":"group","type":"nominal"}}},
{"data":{"values":[{"t":"Conditions"}]},"mark":{"type":"text","align":"left","baseline":"middle","fontSize":11.5,"color":"#555555"},"encoding":{"x":{"value":6},"y":{"value":15},"text":{"field":"t","type":"nominal"}}},
{"data":{"values":[{"t":"Original Condition"}]},"mark":{"type":"text","align":"left","baseline":"middle","fontSize":11.5,"color":"#555555"},"encoding":{"x":{"value":166},"y":{"value":15},"text":{"field":"t","type":"nominal"}}},
{"data":{"values":[{}]},"mark":{"type":"point","size":100,"filled":true,"opacity":1,"color":"#555555","shape":"M-1,-1 H1 V-.6 H-1 Z M-1,-.2 H.3 V.2 H-1 Z M-1,.6 H-.3 V1 H-1 Z"},"encoding":{"x":{"value":139},"y":{"value":13}}},
{"data":{"values":[{}]},"mark":{"type":"point","size":100,"filled":true,"opacity":1,"color":"#555555","shape":"M-1,-1 H1 V-.6 H-1 Z M-1,-.2 H.3 V.2 H-1 Z M-1,.6 H-.3 V1 H-1 Z"},"encoding":{"x":{"value":299},"y":{"value":13}}},
{"data":{"values":[{}]},"mark":{"type":"rule","color":"#cfcfcf"},"encoding":{"x":{"value":0},"x2":{"value":627},"y":{"value":23}}},
{"data":{"values":[{}]},"mark":{"type":"rule","color":"#cfcfcf"},"encoding":{"x":{"value":627},"y":{"value":23},"y2":{"value":1053}}},
{"data":{"values":[{}]},"mark":{"type":"rule","color":"#cfcfcf"},"encoding":{"x":{"value":320},"y":{"value":23},"y2":{"value":1053}}}
]},
{"width":638,"height":8,"data":{"values":[{}]},"mark":{"type":"rect","opacity":0},"encoding":{}},
{"width":638,"height":33,"view":{"fill":"#f5f5f5"},"data":{"values":[{"t":"Related Studies"}]},"mark":{"type":"text","font":"Inter","fontWeight":300,"fontSize":16,"color":"#444444"},"encoding":{"text":{"field":"t","type":"nominal"}}},
{"width":637,"height":946,"data":{"name":"studies"},"transform":[{"calculate":"length(datum.title)","as":"title_len"},{"calculate":"0","as":"zero"}],"encoding":{
"y":{"field":"nct","type":"nominal","sort":null,"axis":null,"scale":{"range":[23,923],"paddingInner":0,"paddingOuter":0}}},
"layer":[
{"mark":{"type":"rule","color":"#cfcfcf"},"encoding":{"y":{"field":"nct","type":"nominal","sort":null,"bandPosition":1}}},
{"mark":{"type":"rule","color":"#5b83ad"},"encoding":{"y":{"field":"nct","type":"nominal","sort":null,"bandPosition":0.8},"x":{"value":6},"x2":{"value":83}}},
{"mark":{"type":"rule","color":"#5b83ad","clip":true},"encoding":{"y":{"field":"nct","type":"nominal","sort":null,"bandPosition":0.8},"x":{"field":"zero","type":"quantitative","axis":null,"scale":{"domain":[0,81.4],"range":[166,638],"nice":false}},"x2":{"field":"title_len"}}},
{"mark":{"type":"text","align":"left","fontSize":11.5,"color":"#4e79a7"},"encoding":{"x":{"value":6},"text":{"field":"nct","type":"nominal"}}},
{"mark":{"type":"text","align":"left","fontSize":12.2,"color":"#4e79a7","clip":true},"encoding":{"x":{"value":166},"text":{"field":"title","type":"nominal"}}},
{"data":{"values":[{"t":"Nct Id"}]},"mark":{"type":"text","align":"left","baseline":"middle","fontSize":11.5,"color":"#4e79a7"},"encoding":{"x":{"value":6},"y":{"value":15},"text":{"field":"t","type":"nominal"}}},
{"data":{"values":[{"t":"Brief title"}]},"mark":{"type":"text","align":"left","baseline":"middle","fontSize":11.5,"color":"#4e79a7"},"encoding":{"x":{"value":166},"y":{"value":15},"text":{"field":"t","type":"nominal"}}},
{"data":{"values":[{}]},"mark":{"type":"rule","color":"#5b83ad"},"encoding":{"x":{"value":6},"x2":{"value":38},"y":{"value":21}}},
{"data":{"values":[{}]},"mark":{"type":"rule","color":"#5b83ad"},"encoding":{"x":{"value":166},"x2":{"value":219},"y":{"value":21}}},
{"data":{"values":[{}]},"mark":{"type":"rule","color":"#cfcfcf"},"encoding":{"x":{"value":0},"x2":{"value":637},"y":{"value":23}}}
]}
]}
]},
{"width":1200,"height":30,"data":{"values":[{"t":"Created by Apperture LLC for AMCP | Data Source: Clinical Trials open government data"}]},"mark":{"type":"text","font":"Lato","fontSize":11,"color":"#8c8c8c","y":10},"encoding":{"text":{"field":"t","type":"nominal"}}},
{"width":1200,"height":27,"view":{"fill":"#f9f9f9"},"layer":[
{"data":{"values":[{"t":"View on Tableau Public"}]},"mark":{"type":"text","x":55,"y":13.5,"align":"left","baseline":"middle","font":"Open Sans","fontWeight":600,"fontSize":12,"color":"#5a5a5a"},"encoding":{"text":{"field":"t","type":"nominal"}}},
{"data":{"values":[{}]},"mark":{"type":"point","x":41,"y":14,"size":256,"filled":false,"opacity":1,"stroke":"#5a5a5a","strokeWidth":1,"shape":"M0,-1 V-.4 M-.25,-.7 H.25 M0,.4 V1 M-.25,.7 H.25 M-1,0 H-.4 M-.7,-.25 V.25 M.4,0 H1 M.7,-.25 V.25 M-.25,0 H.25 M0,-.25 V.25 M-.6,-.6 V-.3 M-.75,-.45 H-.45 M.6,-.6 V-.3 M.45,-.45 H.75 M-.6,.3 V.6 M-.75,.45 H-.45 M.6,.3 V.6 M.45,.45 H.75"},"encoding":{}},
{"data":{"values":[{}]},"mark":{"type":"point","x":827,"y":14,"size":196,"filled":false,"opacity":1,"stroke":"#c4c4c4","strokeWidth":1.2,"shape":"M-.8,-.8 L-.2,-.8 C1,-.8 1,.9 -.1,.9 M-.8,-.8 L-.8,-.3"},"encoding":{}},
{"data":{"values":[{}]},"mark":{"type":"point","x":868,"y":14,"size":196,"filled":false,"opacity":1,"stroke":"#c4c4c4","strokeWidth":1.2,"shape":"M.8,-.8 L.2,-.8 C-1,-.8 -1,.9 .1,.9 M.8,-.8 L.8,-.3"},"encoding":{}},
{"data":{"values":[{}]},"mark":{"type":"point","x":906,"y":14,"size":196,"filled":false,"opacity":1,"stroke":"#c4c4c4","strokeWidth":1.2,"shape":"M-.6,-.8 L-.1,-.8 C1,-.8 1,.9 -.1,.9 M-.6,-.8 L-.6,-.3 M-1,-1 V-.4"},"encoding":{}},
{"data":{"values":[{}]},"mark":{"type":"point","x":944,"y":14,"size":196,"filled":false,"opacity":1,"stroke":"#c4c4c4","strokeWidth":1.2,"shape":"M.7,-.6 L-.6,-.6 C-1,-.6 -1,.5 -.6,.5 L.6,.5 C1,.5 1,-.6 .7,-.6 M.7,-.6 L.4,-.9"},"encoding":{}},
{"data":{"values":[{"t":"▾"}]},"mark":{"type":"text","x":970,"y":14,"fontSize":12,"color":"#c4c4c4","baseline":"middle"},"encoding":{"text":{"field":"t","type":"nominal"}}},
{"data":{"values":[{}]},"mark":{"type":"rule","color":"#d0d0d0"},"encoding":{"x":{"value":995},"y":{"value":6},"y2":{"value":21}}},
{"data":{"values":[{}]},"mark":{"type":"point","x":1029,"y":14,"size":196,"filled":false,"opacity":1,"stroke":"#666666","strokeWidth":1.2,"shape":"M-.3,.4 H-1 V-1 H1 V.4 H.3 M0,-.2 V1 M-.35,.6 L0,1 L.35,.6"},"encoding":{}},
{"data":{"values":[{"t":"▾"}]},"mark":{"type":"text","x":1046,"y":14,"fontSize":12,"color":"#555555","baseline":"middle"},"encoding":{"text":{"field":"t","type":"nominal"}}},
{"data":{"values":[{}]},"mark":{"type":"point","x":1081,"y":14,"size":196,"filled":false,"opacity":1,"stroke":"#666666","strokeWidth":1.2,"shape":"M-1,-.5 V-1 H1 V-.5 M-1,.5 V1 H1 V.5 M-.5,-.6 H.5 V.6 H-.5 Z"},"encoding":{}},
{"data":{"values":[{}]},"mark":{"type":"point","x":1117,"y":14,"size":196,"filled":false,"opacity":1,"stroke":"#666666","strokeWidth":1.2,"shape":"M-.5,0 L.6,-.7 M-.5,0 L.6,.7 M-.9,0 A.35,.35 0 1 1 -.2,0 A.35,.35 0 1 1 -.9,0 M.3,-.75 A.35,.35 0 1 1 1,-.75 A.35,.35 0 1 1 .3,-.75 M.3,.75 A.35,.35 0 1 1 1,.75 A.35,.35 0 1 1 .3,.75"},"encoding":{}},
{"data":{"values":[{"t":"Share"}]},"mark":{"type":"text","x":1132,"y":13.5,"align":"left","baseline":"middle","font":"Open Sans","fontWeight":600,"fontSize":12,"color":"#5a5a5a"},"encoding":{"text":{"field":"t","type":"nominal"}}}
]}
]
}
